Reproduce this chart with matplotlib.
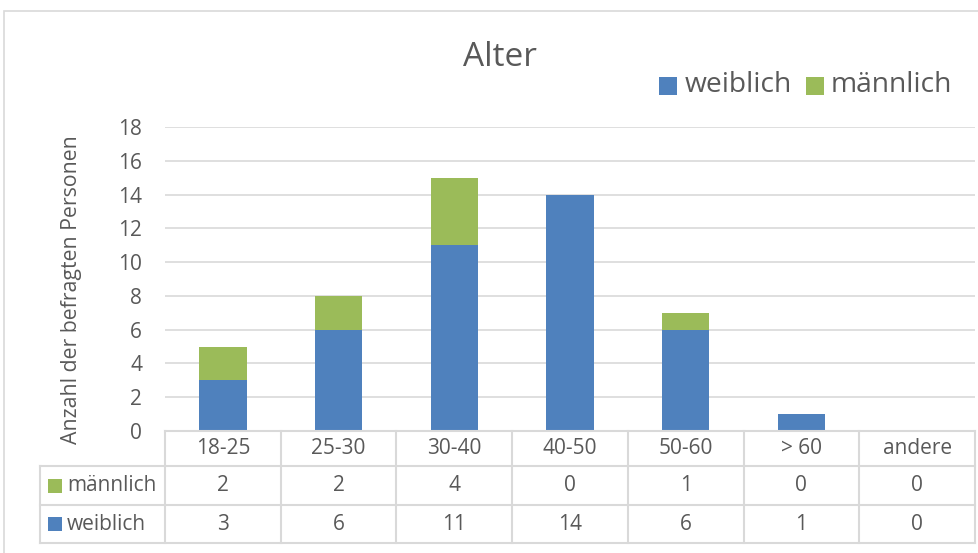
import matplotlib
matplotlib.use("Agg")
import matplotlib.pyplot as plt
import numpy as np
from matplotlib.patches import Rectangle
from matplotlib.lines import Line2D

# data
categories = ['18-25', '25-30', '30-40', '40-50', '50-60', '> 60', 'andere']
weiblich = [3, 6, 11, 14, 6, 1, 0]
maennlich = [2, 2, 4, 0, 1, 0, 0]

blue = '#4F81BD'
green = '#9BBB59'
txt = '#595959'
grid = '#D9D9D9'

plt.rcParams['font.family'] = ['Open Sans', 'DejaVu Sans']

W, H = 979, 553
fig = plt.figure(figsize=(W / 100, H / 100), dpi=100)

def fx(x):
    return x / W

def fy(y):
    return 1 - y / H

# chart border
fig.add_artist(Rectangle((fx(4), fy(600)), fx(1100), fy(11) - fy(600),
                         transform=fig.transFigure, fill=False, edgecolor=grid, lw=1.2))

x0, x1, y0, y1 = 165, 975, 431, 127
ax = fig.add_axes([fx(x0), fy(y0), fx(x1) - fx(x0), fy(y1) - fy(y0)])
x = np.arange(len(categories))
ax.bar(x, weiblich, width=0.41, color=blue, zorder=3)
ax.bar(x, maennlich, width=0.41, bottom=weiblich, color=green, zorder=3)
ax.set_xlim(-0.5, len(categories) - 0.5)
ax.set_ylim(0, 18)
ax.set_yticks(range(0, 19, 2))
ax.yaxis.grid(True, color=grid, lw=1.2, zorder=0)
ax.set_xticks([])
for s in ax.spines.values():
    s.set_visible(False)
ax.tick_params(axis='y', length=0, pad=16.5, labelsize=15, labelcolor=txt)
ax.set_facecolor('none')

fig.text(fx(72), fy(290), 'Anzahl der befragten Personen', rotation=90,
         ha='center', va='center', fontsize=15.3, color=txt)
fig.text(fx(500), fy(57), 'Alter', ha='center', va='center', fontsize=24, color=txt)

# legend
fig.add_artist(Rectangle((fx(659), fy(95)), fx(18), fy(77) - fy(95),
                         transform=fig.transFigure, color=blue, lw=0))
fig.text(fx(685), fy(85), 'weiblich', ha='left', va='center', fontsize=20.3, color=txt)
fig.add_artist(Rectangle((fx(806), fy(95)), fx(18), fy(77) - fy(95),
                         transform=fig.transFigure, color=green, lw=0))
fig.text(fx(831), fy(85), 'männlich', ha='left', va='center', fontsize=20.3, color=txt)

# data table
col_w = (x1 - x0) / len(categories)
rows_y = [431, 466, 505, 543]
hx = 40

def hline(xa, xb, y):
    fig.add_artist(Line2D([fx(xa), fx(xb)], [fy(y), fy(y)], transform=fig.transFigure,
                          color=grid, lw=1.5))

def vline(xx, ya, yb):
    fig.add_artist(Line2D([fx(xx), fx(xx)], [fy(ya), fy(yb)], transform=fig.transFigure,
                          color=grid, lw=1.5))

hline(x0, x1, rows_y[0])
for y in rows_y[1:]:
    hline(hx, x1, y)
vline(hx, rows_y[1], rows_y[3])
for i in range(len(categories) + 1):
    vline(x0 + i * col_w, rows_y[0], rows_y[3])

for i, c in enumerate(categories):
    cx = ax.transData.transform((i, 0))[0] / W
    fig.text(cx, fy((rows_y[0] + rows_y[1]) / 2), c, ha='center', va='center',
             fontsize=15, color=txt)
    fig.text(cx, fy((rows_y[1] + rows_y[2]) / 2), str(maennlich[i]), ha='center',
             va='center', fontsize=15, color=txt)
    fig.text(cx, fy((rows_y[2] + rows_y[3]) / 2), str(weiblich[i]), ha='center',
             va='center', fontsize=15, color=txt)

for (label, col, ya, yb) in [('männlich', green, rows_y[1], rows_y[2]),
                              ('weiblich', blue, rows_y[2], rows_y[3])]:
    ym = (ya + yb) / 2
    fig.add_artist(Rectangle((fx(48), fy(ym + 7)), fx(14), fy(ym - 7) - fy(ym + 7),
                             transform=fig.transFigure, color=col, lw=0))
    fig.text(fx(67), fy(ym), label, ha='left', va='center', fontsize=15, color=txt)

fig.savefig('out.png', dpi=100)
